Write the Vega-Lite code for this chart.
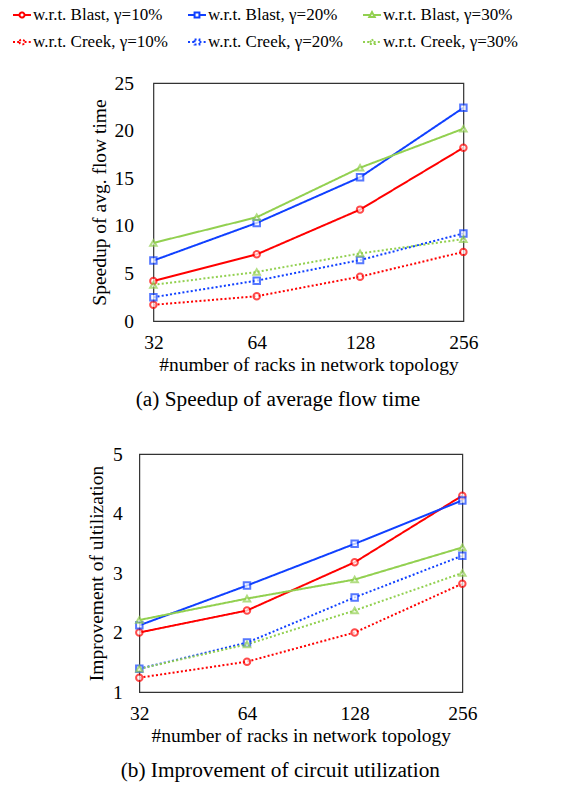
{
  "$schema": "https://vega.github.io/schema/vega-lite/v6.json",
  "padding": {"left": 12, "top": 5, "right": 5, "bottom": 5},
  "config": {
    "font": "Liberation Serif",
    "view": {"stroke": "#333333", "strokeWidth": 1.2},
    "axis": {"grid": false, "ticks": false, "domain": false, "labelFontSize": 19.5, "titleFontSize": 19.5, "labelColor": "#000", "titleColor": "#000", "titleFontWeight": "normal", "labelFont": "Liberation Serif", "titleFont": "Liberation Serif"},
    "title": {"fontSize": 21.3, "fontWeight": "normal", "font": "Liberation Serif", "color": "#000"},
    "legend": {"labelFont": "Liberation Serif", "labelFontSize": 17, "labelColor": "#000"}
  },
  "data": {"values": [
    {"panel": "a", "racks": 32, "series": "w.r.t. Blast, γ=10%", "gamma": "10", "value": 4.2},
    {"panel": "a", "racks": 64, "series": "w.r.t. Blast, γ=10%", "gamma": "10", "value": 7.0},
    {"panel": "a", "racks": 128, "series": "w.r.t. Blast, γ=10%", "gamma": "10", "value": 11.7},
    {"panel": "a", "racks": 256, "series": "w.r.t. Blast, γ=10%", "gamma": "10", "value": 18.2},
    {"panel": "a", "racks": 32, "series": "w.r.t. Blast, γ=20%", "gamma": "20", "value": 6.35},
    {"panel": "a", "racks": 64, "series": "w.r.t. Blast, γ=20%", "gamma": "20", "value": 10.3},
    {"panel": "a", "racks": 128, "series": "w.r.t. Blast, γ=20%", "gamma": "20", "value": 15.1},
    {"panel": "a", "racks": 256, "series": "w.r.t. Blast, γ=20%", "gamma": "20", "value": 22.4},
    {"panel": "a", "racks": 32, "series": "w.r.t. Blast, γ=30%", "gamma": "30", "value": 8.2},
    {"panel": "a", "racks": 64, "series": "w.r.t. Blast, γ=30%", "gamma": "30", "value": 10.9},
    {"panel": "a", "racks": 128, "series": "w.r.t. Blast, γ=30%", "gamma": "30", "value": 16.1},
    {"panel": "a", "racks": 256, "series": "w.r.t. Blast, γ=30%", "gamma": "30", "value": 20.2},
    {"panel": "a", "racks": 32, "series": "w.r.t. Creek, γ=10%", "gamma": "10", "value": 1.7},
    {"panel": "a", "racks": 64, "series": "w.r.t. Creek, γ=10%", "gamma": "10", "value": 2.6},
    {"panel": "a", "racks": 128, "series": "w.r.t. Creek, γ=10%", "gamma": "10", "value": 4.66},
    {"panel": "a", "racks": 256, "series": "w.r.t. Creek, γ=10%", "gamma": "10", "value": 7.26},
    {"panel": "a", "racks": 32, "series": "w.r.t. Creek, γ=20%", "gamma": "20", "value": 2.5},
    {"panel": "a", "racks": 64, "series": "w.r.t. Creek, γ=20%", "gamma": "20", "value": 4.24},
    {"panel": "a", "racks": 128, "series": "w.r.t. Creek, γ=20%", "gamma": "20", "value": 6.4},
    {"panel": "a", "racks": 256, "series": "w.r.t. Creek, γ=20%", "gamma": "20", "value": 9.2},
    {"panel": "a", "racks": 32, "series": "w.r.t. Creek, γ=30%", "gamma": "30", "value": 3.8},
    {"panel": "a", "racks": 64, "series": "w.r.t. Creek, γ=30%", "gamma": "30", "value": 5.15},
    {"panel": "a", "racks": 128, "series": "w.r.t. Creek, γ=30%", "gamma": "30", "value": 7.1},
    {"panel": "a", "racks": 256, "series": "w.r.t. Creek, γ=30%", "gamma": "30", "value": 8.6},
    {"panel": "b", "racks": 32, "series": "w.r.t. Blast, γ=10%", "gamma": "10", "value": 2.0},
    {"panel": "b", "racks": 64, "series": "w.r.t. Blast, γ=10%", "gamma": "10", "value": 2.37},
    {"panel": "b", "racks": 128, "series": "w.r.t. Blast, γ=10%", "gamma": "10", "value": 3.18},
    {"panel": "b", "racks": 256, "series": "w.r.t. Blast, γ=10%", "gamma": "10", "value": 4.3},
    {"panel": "b", "racks": 32, "series": "w.r.t. Blast, γ=20%", "gamma": "20", "value": 2.12},
    {"panel": "b", "racks": 64, "series": "w.r.t. Blast, γ=20%", "gamma": "20", "value": 2.79},
    {"panel": "b", "racks": 128, "series": "w.r.t. Blast, γ=20%", "gamma": "20", "value": 3.49},
    {"panel": "b", "racks": 256, "series": "w.r.t. Blast, γ=20%", "gamma": "20", "value": 4.22},
    {"panel": "b", "racks": 32, "series": "w.r.t. Blast, γ=30%", "gamma": "30", "value": 2.21},
    {"panel": "b", "racks": 64, "series": "w.r.t. Blast, γ=30%", "gamma": "30", "value": 2.57},
    {"panel": "b", "racks": 128, "series": "w.r.t. Blast, γ=30%", "gamma": "30", "value": 2.89},
    {"panel": "b", "racks": 256, "series": "w.r.t. Blast, γ=30%", "gamma": "30", "value": 3.43},
    {"panel": "b", "racks": 32, "series": "w.r.t. Creek, γ=10%", "gamma": "10", "value": 1.24},
    {"panel": "b", "racks": 64, "series": "w.r.t. Creek, γ=10%", "gamma": "10", "value": 1.51},
    {"panel": "b", "racks": 128, "series": "w.r.t. Creek, γ=10%", "gamma": "10", "value": 2.0},
    {"panel": "b", "racks": 256, "series": "w.r.t. Creek, γ=10%", "gamma": "10", "value": 2.82},
    {"panel": "b", "racks": 32, "series": "w.r.t. Creek, γ=20%", "gamma": "20", "value": 1.39},
    {"panel": "b", "racks": 64, "series": "w.r.t. Creek, γ=20%", "gamma": "20", "value": 1.83},
    {"panel": "b", "racks": 128, "series": "w.r.t. Creek, γ=20%", "gamma": "20", "value": 2.59},
    {"panel": "b", "racks": 256, "series": "w.r.t. Creek, γ=20%", "gamma": "20", "value": 3.29},
    {"panel": "b", "racks": 32, "series": "w.r.t. Creek, γ=30%", "gamma": "30", "value": 1.39},
    {"panel": "b", "racks": 64, "series": "w.r.t. Creek, γ=30%", "gamma": "30", "value": 1.8},
    {"panel": "b", "racks": 128, "series": "w.r.t. Creek, γ=30%", "gamma": "30", "value": 2.37},
    {"panel": "b", "racks": 256, "series": "w.r.t. Creek, γ=30%", "gamma": "30", "value": 3.0}
  ]},
  "center": true,
  "spacing": 32,
  "vconcat": [
    {
      "width": 310,
      "height": 238,
      "transform": [{"filter": "datum.panel === 'a'"}],
      "title": {"text": "(a)  Speedup of average flow time", "orient": "bottom", "frame": "bounds", "offset": 15, "dx": -6},
      "encoding": {
        "x": {"field": "racks", "type": "ordinal", "sort": [32, 64, 128, 256], "scale": {"padding": 0}, "axis": {"labelAngle": 0, "labelPadding": 12, "titlePadding": 4, "title": "#number of racks in network topology"}},
        "y": {"field": "value", "type": "quantitative", "scale": {"domain": [0, 25], "nice": false}, "axis": {"values": [0, 5, 10, 15, 20, 25], "labelPadding": 20, "titlePadding": 4, "title": "Speedup of avg. flow time"}}
      },
      "layer": [
        {
          "mark": {"type": "line", "strokeWidth": 2},
          "encoding": {
            "color": {"field": "series", "type": "nominal", "title": null, "scale": {"domain": ["w.r.t. Blast, γ=10%", "w.r.t. Blast, γ=20%", "w.r.t. Blast, γ=30%", "w.r.t. Creek, γ=10%", "w.r.t. Creek, γ=20%", "w.r.t. Creek, γ=30%"], "range": ["#FF0000", "#1040FF", "#92D050", "#FF0000", "#1040FF", "#92D050"]},
              "legend": {"orient": "none", "legendX": -127, "legendY": -78, "direction": "horizontal", "columns": 3, "gridAlign": "all", "symbolSize": 324, "symbolStrokeWidth": 2, "symbolOpacity": 1, "columnPadding": 16, "rowPadding": 9, "labelOffset": 1, "labelLimit": 300}},
            "strokeDash": {"field": "series", "type": "nominal", "title": null, "scale": {"domain": ["w.r.t. Blast, γ=10%", "w.r.t. Blast, γ=20%", "w.r.t. Blast, γ=30%", "w.r.t. Creek, γ=10%", "w.r.t. Creek, γ=20%", "w.r.t. Creek, γ=30%"], "range": [[1, 0], [1, 0], [1, 0], [2, 2.2], [2, 2.2], [2, 2.2]]}}
          }
        },
        {
          "mark": {"type": "point", "filled": false, "fill": "white", "opacity": 0, "size": 324, "strokeWidth": 2},
          "encoding": {
            "color": {"field": "series", "type": "nominal", "title": null},
            "strokeDash": {"field": "series", "type": "nominal", "title": null},
            "shape": {"field": "series", "type": "nominal", "title": null, "scale": {"domain": ["w.r.t. Blast, γ=10%", "w.r.t. Blast, γ=20%", "w.r.t. Blast, γ=30%", "w.r.t. Creek, γ=10%", "w.r.t. Creek, γ=20%", "w.r.t. Creek, γ=30%"], "range": [
              "M-1,0H-0.28M0.28,0H1M-0.28,0A0.28,0.28 0 1,0 0.28,0A0.28,0.28 0 1,0 -0.28,0Z",
              "M-1,0H-0.27M0.27,0H1M-0.27,-0.27H0.27V0.27H-0.27Z",
              "M-1,0H-0.18M0.18,0H1M0,-0.32L0.3,0.22H-0.3Z",
              "M-1,0H-0.28M0.28,0H1M-0.28,0A0.28,0.28 0 1,0 0.28,0A0.28,0.28 0 1,0 -0.28,0Z",
              "M-1,0H-0.27M0.27,0H1M-0.27,-0.27H0.27V0.27H-0.27Z",
              "M-1,0H-0.18M0.18,0H1M0,-0.32L0.3,0.22H-0.3Z"
            ]}}
          }
        },
        {
          "transform": [{"filter": "datum.gamma === '10'"}],
          "mark": {"type": "point", "shape": "circle", "filled": false, "fill": "white", "size": 42, "strokeWidth": 2},
          "encoding": {"color": {"field": "series", "type": "nominal", "title": null}}
        },
        {
          "transform": [{"filter": "datum.gamma === '20'"}],
          "mark": {"type": "point", "shape": "square", "filled": false, "fill": "white", "size": 42, "strokeWidth": 2},
          "encoding": {"color": {"field": "series", "type": "nominal", "title": null}}
        },
        {
          "transform": [{"filter": "datum.gamma === '30'"}],
          "mark": {"type": "point", "shape": "triangle-up", "filled": false, "fill": "white", "size": 42, "strokeWidth": 2},
          "encoding": {"color": {"field": "series", "type": "nominal", "title": null}}
        }
      ]
    },
    {
      "width": 323,
      "height": 238,
      "transform": [{"filter": "datum.panel === 'b'"}],
      "title": {"text": "(b)  Improvement of circuit utilization", "orient": "bottom", "frame": "bounds", "offset": 15, "dx": -9},
      "encoding": {
        "x": {"field": "racks", "type": "ordinal", "sort": [32, 64, 128, 256], "scale": {"padding": 0}, "axis": {"labelAngle": 0, "labelPadding": 12, "titlePadding": 4, "title": "#number of racks in network topology"}}
      },
      "resolve": {"axis": {"y": "independent"}},
      "layer": [
        {
          "encoding": {
            "y": {"field": "value", "type": "quantitative", "scale": {"domain": [1, 5], "nice": false}, "axis": {"values": [1, 2, 3, 4, 5], "labelPadding": 17, "titlePadding": 6, "title": "Improvement of ultilization"}}
          },
          "layer": [
            {
              "mark": {"type": "line", "strokeWidth": 2},
              "encoding": {
                "color": {"field": "series", "type": "nominal", "title": null},
                "strokeDash": {"field": "series", "type": "nominal", "title": null}
              }
            },
            {
              "transform": [{"filter": "datum.gamma === '10'"}],
              "mark": {"type": "point", "shape": "circle", "filled": false, "fill": "white", "size": 42, "strokeWidth": 2},
              "encoding": {"color": {"field": "series", "type": "nominal", "title": null}}
            },
            {
              "transform": [{"filter": "datum.gamma === '20'"}],
              "mark": {"type": "point", "shape": "square", "filled": false, "fill": "white", "size": 42, "strokeWidth": 2},
              "encoding": {"color": {"field": "series", "type": "nominal", "title": null}}
            },
            {
              "transform": [{"filter": "datum.gamma === '30'"}],
              "mark": {"type": "point", "shape": "triangle-up", "filled": false, "fill": "white", "size": 42, "strokeWidth": 2},
              "encoding": {"color": {"field": "series", "type": "nominal", "title": null}}
            }
          ]
        },
        {
          "mark": {"type": "point", "filled": false, "fill": "white", "opacity": 0, "size": 324, "strokeWidth": 2},
          "encoding": {
            "y": {"field": "value", "type": "quantitative", "axis": {"orient": "right", "values": [5], "labelOpacity": 0, "labelPadding": 20, "title": null}},
            "color": {"field": "series", "type": "nominal", "title": null},
            "strokeDash": {"field": "series", "type": "nominal", "title": null},
            "shape": {"field": "series", "type": "nominal", "title": null}
          }
        }
      ]
    }
  ]
}
